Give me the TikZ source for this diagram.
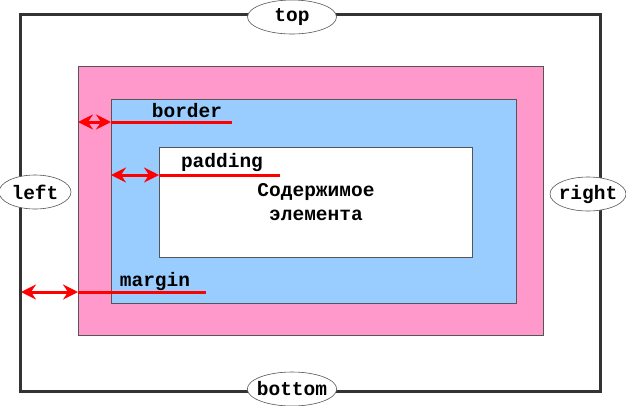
\documentclass[tikz,border=0pt]{standalone}
\usepackage{fontspec}
\setmonofont{Liberation Mono}
\usetikzlibrary{arrows.meta,shapes.geometric}
\definecolor{boxpink}{HTML}{FF99CC}
\definecolor{boxblue}{HTML}{99CCFF}
\definecolor{edgegray}{HTML}{555555}
\definecolor{framegray}{HTML}{333333}
\begin{document}
\begin{tikzpicture}[x=1pt,y=-1pt,
    txt/.style={font=\ttfamily\bfseries\fontsize{19.5}{24}\selectfont},
    side/.style={txt,ellipse,draw=edgegray,fill=white,line width=0.6pt,
      minimum width=89pt,minimum height=34pt,inner xsep=-3.5pt,inner ysep=0pt},
    layer/.style={draw=edgegray,line width=0.8pt},
    redline/.style={red,line width=3pt},
    dbl/.style={redline,{Stealth[length=15pt,width=15pt,inset=5pt]}-{Stealth[length=15pt,width=15pt,inset=5pt]}}]
  \useasboundingbox (0,0) rectangle (626,405);
  % nested boxes
  \draw[framegray,line width=3pt] (20,14) rectangle (600,391);
  \draw[layer,fill=boxpink] (78,66) rectangle (543,335);
  \draw[layer,fill=boxblue] (111,99) rectangle (516,303);
  \draw[layer,fill=white] (159,147) rectangle (472,257);
  \draw
    (292,17) node[side] (top){top}
    (35,192) node[side,minimum width=72pt] (left){left}
    (588,194) node[side,minimum width=76pt] (right){right}
    (292,389) node[side] (bottom){bottom}
    (316,202) node[txt,align=center] (content){Содержимое\\элемента}
    (187,111) node[txt] (border){border}
    (222,162) node[txt] (padding){padding}
    (155,281) node[txt] (margin){margin};
  \coordinate (b0) at (78,122);
  \coordinate (b1) at (111,122);
  \coordinate (b2) at (232,122);
  \coordinate (p0) at (111,175);
  \coordinate (p1) at (159,175);
  \coordinate (p2) at (280,175);
  \coordinate (m0) at (21,292);
  \coordinate (m1) at (78,292);
  \coordinate (m2) at (206,292);
  \begin{scope}[redline]
    \draw (b1) to (b2);
    \draw (p1) to (p2);
    \draw (m1) to (m2);
    \draw[dbl] (b0) to (b1);
    \draw[dbl] (p0) to (p1);
    \draw[dbl] (m0) to (m1);
  \end{scope}
\end{tikzpicture}
\end{document}
